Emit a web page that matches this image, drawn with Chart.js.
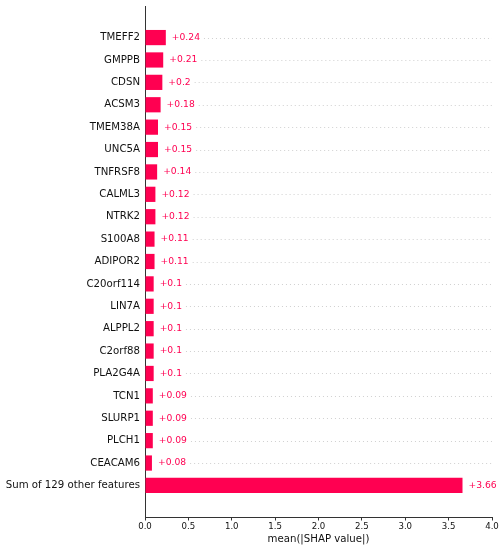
<!DOCTYPE html>
<html>
<head>
<meta charset="utf-8">
<script src="https://cdn.jsdelivr.net/npm/chart.js@4"></script>
<style>
html,body{margin:0;padding:0;background:#fff;}
#c{display:block;}
</style>
</head>
<body>
<canvas id="c" width="504" height="550"></canvas>
<script>
const features = ["TMEFF2","GMPPB","CDSN","ACSM3","TMEM38A","UNC5A","TNFRSF8","CALML3","NTRK2","S100A8","ADIPOR2","C20orf114","LIN7A","ALPPL2","C2orf88","PLA2G4A","TCN1","SLURP1","PLCH1","CEACAM6","Sum of 129 other features"];
const values = [0.24,0.21,0.2,0.18,0.15,0.15,0.14,0.12,0.12,0.11,0.11,0.1,0.1,0.1,0.1,0.1,0.09,0.09,0.09,0.08,3.66];
const xTicks = [0,0.5,1,1.5,2,2.5,3,3.5,4];

const n = features.length;
const rowPos = features.map((f,i)=> n-1-i);
const points = values.map((v,i)=>({x:v,y:rowPos[i]}));
const RED = '#ff0051';
const FONT = "'DejaVu Sans', sans-serif";
const VFONT = "9.2px " + FONT;

function labelText(v){ return '+' + String(v); }

const rowLines = {
  id:'rowLines',
  beforeDatasetsDraw(chart){
    const ctx = chart.ctx;
    const meta = chart.getDatasetMeta(0);
    const area = chart.chartArea;
    ctx.save();
    ctx.font = VFONT;
    ctx.strokeStyle = '#c4c4c4';
    ctx.lineWidth = 0.8;
    ctx.setLineDash([1,3]);
    meta.data.forEach((bar,i)=>{
      const w = ctx.measureText(labelText(values[i])).width;
      const x0 = bar.x + 6 + w + 4;
      if (x0 < area.right) {
        ctx.beginPath();
        ctx.moveTo(x0, Math.round(bar.y)+0.5);
        ctx.lineTo(area.right, Math.round(bar.y)+0.5);
        ctx.stroke();
      }
    });
    ctx.restore();
  }
};

const valueLabels = {
  id:'valueLabels',
  afterDatasetsDraw(chart){
    const ctx = chart.ctx;
    const meta = chart.getDatasetMeta(0);
    ctx.save();
    ctx.fillStyle = RED;
    ctx.font = VFONT;
    ctx.textAlign = 'left';
    ctx.textBaseline = 'middle';
    meta.data.forEach((bar,i)=>{
      ctx.fillText(labelText(values[i]), bar.x + 6, bar.y);
    });
    ctx.restore();
  }
};

new Chart(document.getElementById('c'), {
  type:'bar',
  data:{
    datasets:[{
      data: points,
      backgroundColor: RED,
      borderWidth:0,
      barPercentage:0.68,
      categoryPercentage:1.0
    }]
  },
  options:{
    indexAxis:'y',
    responsive:false,
    animation:false,
    layout:{padding:{top:0,right:12,left:0,bottom:0}},
    plugins:{legend:{display:false},tooltip:{enabled:false}},
    scales:{
      x:{
        type:'linear',
        min:0,max:4.0,
        afterBuildTicks(scale){ scale.ticks = xTicks.map(v=>({value:v})); },
        grid:{display:true,drawOnChartArea:false,drawTicks:true,tickLength:3.5,color:'#333'},
        border:{display:true,color:'#333',width:1},
        ticks:{color:'#111',font:{family:FONT,size:8.6},padding:1,maxRotation:0,
          callback:(v)=>Number(v).toFixed(1)},
        title:{display:true,text:'mean(|SHAP value|)',color:'#111',font:{family:FONT,size:10.2},padding:{top:0,bottom:5}},
        afterFit(scale){ scale.height = 33; }
      },
      y:{
        type:'linear',
        offset:false,
        min:-1.41,max:n-1+1.41,
        afterBuildTicks(scale){ scale.ticks = rowPos.map(v=>({value:v})); },
        grid:{display:false,offset:false,drawTicks:false},
        border:{display:true,color:'#333',width:1},
        ticks:{color:'#111',font:{family:FONT,size:10.2},padding:5,
          callback:(v)=>{ const i = n-1-Math.round(v); return features[i]; }},
        afterFit(scale){ scale.width = 145; scale.paddingTop = 6; scale.paddingBottom = 0; }
      }
    }
  },
  plugins:[rowLines,valueLabels]
});
</script>
</body>
</html>
